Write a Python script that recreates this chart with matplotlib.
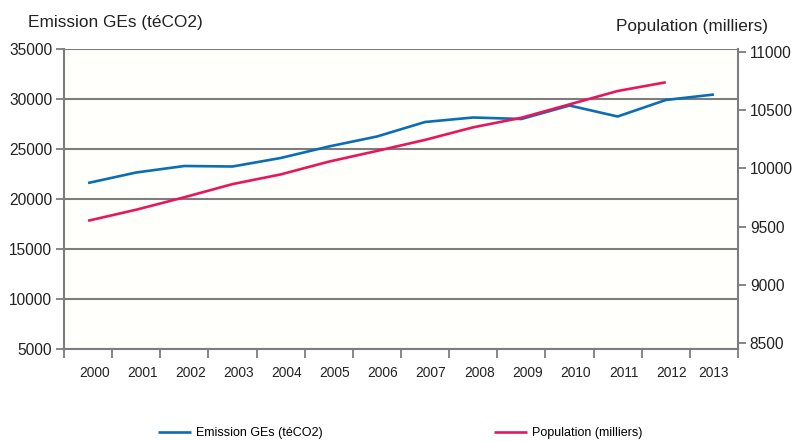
import numpy as np
import matplotlib.pyplot as plt
from matplotlib.transforms import ScaledTranslation

plt.rcParams['font.family'] = ['Liberation Sans', 'DejaVu Sans']

# ------------------ Data ------------------
years = [2000, 2001, 2002, 2003, 2004, 2005, 2006,
         2007, 2008, 2009, 2010, 2011, 2012, 2013]
emissions = [21600, 22650, 23300, 23250, 24100, 25250, 26250,
             27700, 28150, 28000, 29350, 28250, 29900, 30450]
population = [9550, 9645, 9752, 9865, 9948, 10058, 10150,
              10245, 10353, 10435, 10550, 10665, 10740]

left_ticks = [5000, 10000, 15000, 20000, 25000, 30000, 35000]
right_ticks = [8500, 9000, 9500, 10000, 10500, 11000]

BLUE = "#0b6db3"
PINK = "#e8175d"
GRID = "#7d7d7d"

# ------------------ Figure ------------------
fig = plt.figure(figsize=(7.98, 4.42), dpi=100)
fig.patch.set_facecolor("white")
ax = fig.add_axes([64 / 798, 1 - 349 / 442, 674 / 798, 300 / 442])
ax.set_facecolor("#fffffc")
ax2 = ax.twinx()

x = np.arange(len(years))
line_e, = ax.plot(x, emissions, color=BLUE, lw=1.9, solid_capstyle="butt",
                  label="Emission GEs (téCO2)")
line_p, = ax2.plot(x[:len(population)], population, color=PINK, lw=1.9,
                   solid_capstyle="butt", label="Population (milliers)")

# left axis + grid
ax.set_ylim(5000, 35000)
ax.set_yticks(left_ticks)
ax.set_yticklabels([str(t) for t in left_ticks])
ax.grid(axis="y", color=GRID, lw=1.5)
ax.set_axisbelow(True)
ax.tick_params(axis="y", direction="out", length=5.5, width=1.3, color=GRID,
               pad=3, labelsize=11.2, labelcolor="#222222")

# right axis
ax2.set_ylim(8448, 11026)
ax2.set_yticks(right_ticks)
ax2.set_yticklabels([str(t) for t in right_ticks])
ax2.tick_params(axis="y", direction="out", length=5.5, width=1.3, color=GRID,
                pad=3, labelsize=11.2, labelcolor="#222222")

# category axis: ticks between years, labels in the middle
ax.set_xlim(-0.5, len(years) - 0.5)
ax.set_xticks(x)
ax.set_xticklabels([str(y) for y in years])
ax.set_xticks(np.arange(-0.5, len(years)), minor=True)
ax.tick_params(axis="x", which="major", length=0, pad=12, labelsize=9.9,
               labelcolor="#222222")
ax.tick_params(axis="x", which="minor", direction="out", length=6.5,
               width=1.3, color=GRID)
shift = ScaledTranslation(6 / 100, 0, fig.dpi_scale_trans)
for lbl in ax.get_xticklabels()[:-1]:
    lbl.set_transform(lbl.get_transform() + shift)

for a in (ax, ax2):
    for side in ("top", "bottom", "left", "right"):
        a.spines[side].set_visible(False)
ax.spines["left"].set_visible(True)
ax.spines["bottom"].set_visible(True)
ax2.spines["right"].set_visible(True)
for sp in (ax.spines["left"], ax.spines["bottom"], ax2.spines["right"]):
    sp.set_color(GRID)
    sp.set_linewidth(1.5)

# axis titles
fig.text(28 / 798, 1 - 22 / 442, "Emission GEs (téCO2)", ha="left",
         va="center", fontsize=12.4, color="#222222")
fig.text(768 / 798, 1 - 26 / 442, "Population (milliers)", ha="right",
         va="center", fontsize=12.4, color="#222222")

# legend
fig.legend(handles=[line_e, line_p], loc="center left",
           bbox_to_anchor=(158 / 798, 1 - 433 / 442), ncol=2, frameon=False,
           fontsize=9, handlelength=2.65, handletextpad=0.4,
           columnspacing=13.7, borderpad=0, borderaxespad=0)

fig.savefig("out.png", dpi=100)
